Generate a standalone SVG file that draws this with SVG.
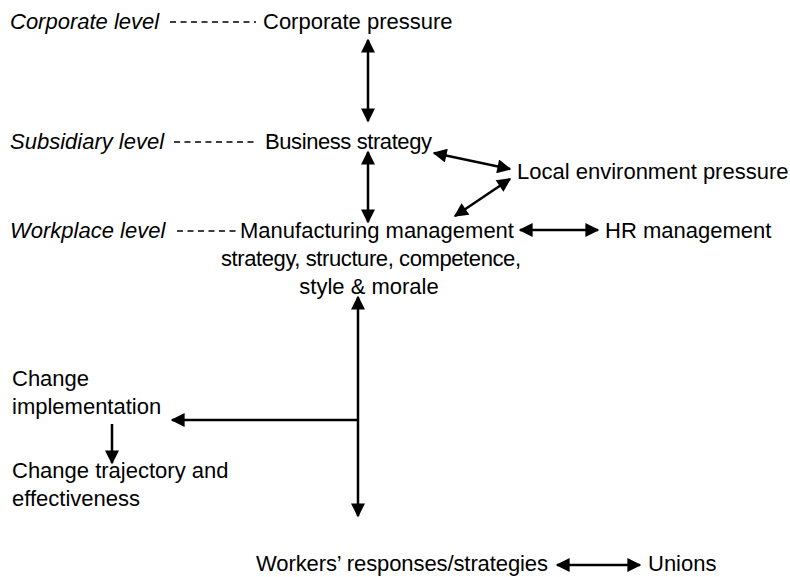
<svg xmlns="http://www.w3.org/2000/svg" width="790" height="577" viewBox="0 0 790 577">
<defs>
<marker id="ah" viewBox="0 0 10 10" refX="9" refY="5" markerWidth="16" markerHeight="14" markerUnits="userSpaceOnUse" orient="auto-start-reverse">
<path d="M0,0 L10,5 L0,10 Z" fill="#000"/>
</marker>
<style>
text{font-family:"Liberation Sans",Arial,sans-serif;font-size:22px;fill:#000}
.it{font-style:italic}
.c{text-anchor:middle}
.ln{stroke:#000;stroke-width:2.5;fill:none}
.da{stroke:#000;stroke-width:1.6;stroke-dasharray:6,4.5;fill:none}
</style>
</defs>
<rect width="790" height="577" fill="#fff"/>
<g id="corporate-level"><text class="it" x="10" y="29">Corporate level</text></g>
<g id="corporate-pressure"><text x="263" y="29">Corporate pressure</text></g>
<g id="subsidiary-level"><text class="it" x="10" y="149">Subsidiary level</text></g>
<g id="business-strategy"><text x="265" y="149" textLength="167">Business strategy</text></g>
<g id="local-env"><text x="517" y="179">Local environment pressure</text></g>
<g id="workplace-level"><text class="it" x="10" y="238">Workplace level</text></g>
<g id="manufacturing"><text class="c" x="377" y="238">Manufacturing management</text><text class="c" x="371" y="266" textLength="300">strategy, structure, competence,</text><text class="c" x="369" y="294">style &amp; morale</text></g>
<g id="hr"><text x="605" y="238">HR management</text></g>
<g id="change-impl"><text x="12" y="386">Change</text><text x="12" y="414">implementation</text></g>
<g id="change-traj"><text x="12" y="478">Change trajectory and</text><text x="12" y="506">effectiveness</text></g>
<g id="workers"><text x="256" y="571" textLength="292">Workers’ responses/strategies</text></g>
<g id="unions"><text x="648" y="571">Unions</text></g>
<g id="connectors">
<line class="da" x1="170" y1="22" x2="256" y2="22"/>
<line class="da" x1="174" y1="142" x2="258" y2="142"/>
<line class="da" x1="177" y1="231" x2="239" y2="231"/>
<line class="ln" x1="368" y1="40" x2="368" y2="121" marker-start="url(#ah)" marker-end="url(#ah)"/>
<line class="ln" x1="368" y1="152" x2="368" y2="222" marker-start="url(#ah)" marker-end="url(#ah)"/>
<line class="ln" x1="434" y1="153" x2="510" y2="169" marker-start="url(#ah)" marker-end="url(#ah)"/>
<line class="ln" x1="510" y1="179" x2="455" y2="216" marker-start="url(#ah)" marker-end="url(#ah)"/>
<line class="ln" x1="520" y1="230" x2="598" y2="230" marker-start="url(#ah)" marker-end="url(#ah)"/>
<line class="ln" x1="358" y1="297" x2="358" y2="516" marker-start="url(#ah)" marker-end="url(#ah)"/>
<line class="ln" x1="358" y1="420" x2="172" y2="420" marker-end="url(#ah)"/>
<line class="ln" x1="112" y1="424" x2="112" y2="463" marker-end="url(#ah)"/>
<line class="ln" x1="557" y1="565" x2="640" y2="565" marker-start="url(#ah)" marker-end="url(#ah)"/>
</g>
</svg>
